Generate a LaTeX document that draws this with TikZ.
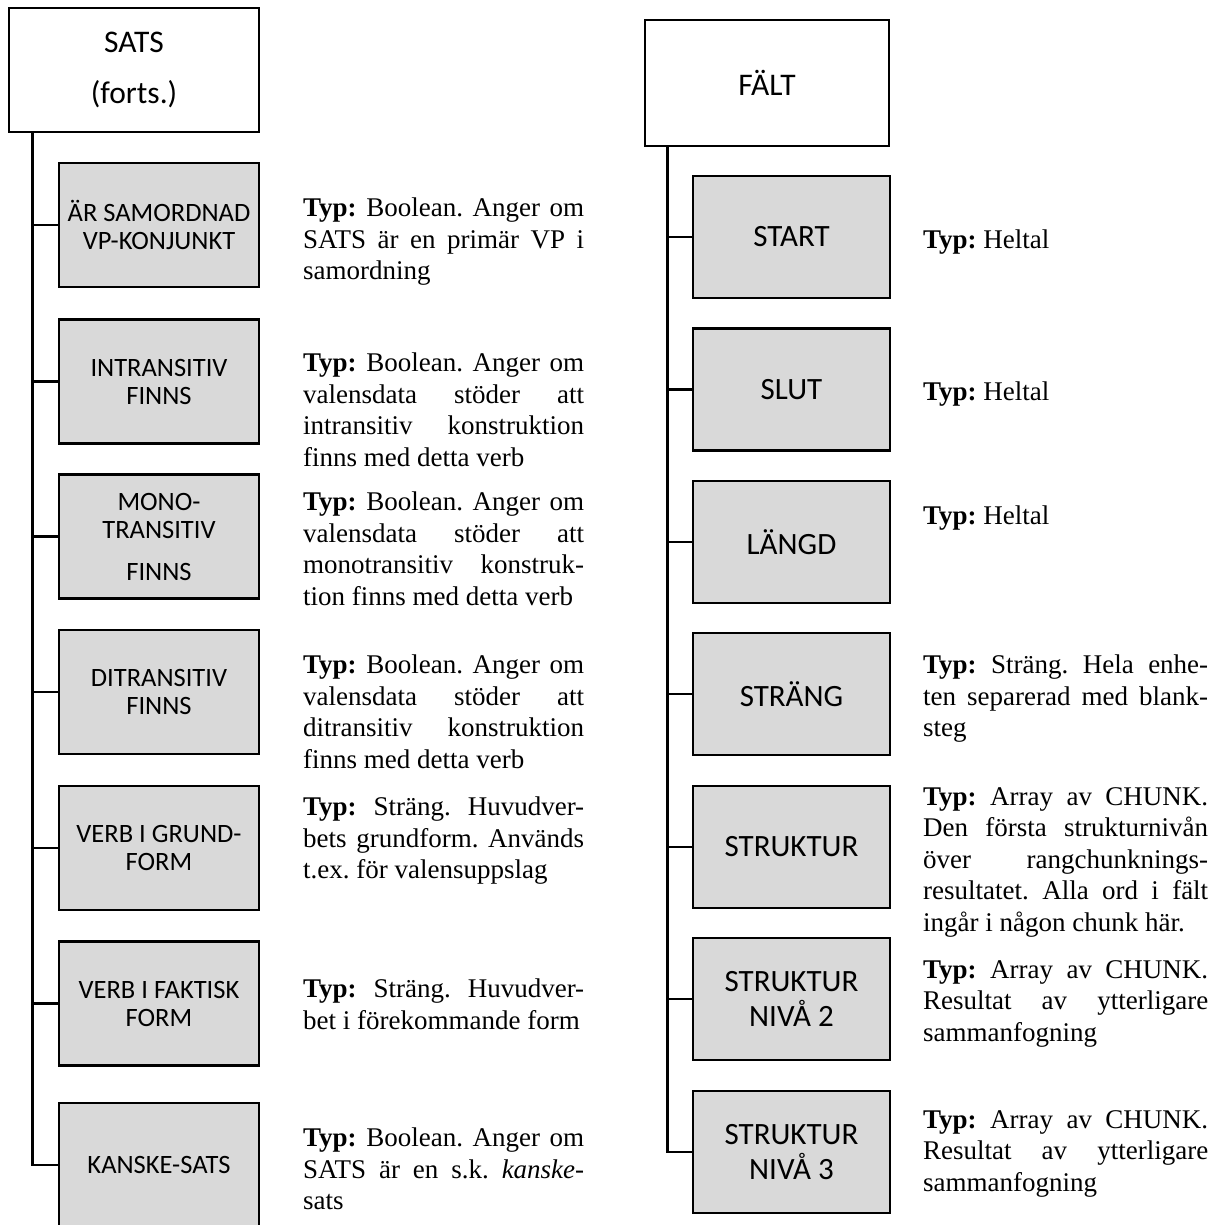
\documentclass[tikz,border=0pt]{standalone}
\usepackage{fontspec}
\setmainfont{Liberation Serif}
\newfontfamily\boxfont{Carlito}
\tolerance=10000
\hbadness=10000
\hyphenpenalty=10000
\frenchspacing
\definecolor{boxgray}{HTML}{D9D9D9}
\tikzset{
  hdrbox/.style={draw, line width=2.6pt, fill=white, rectangle, inner sep=0pt, align=center,
    font=\boxfont\fontsize{31.5}{51}\selectfont},
  leftbox/.style={draw, line width=2.6pt, fill=boxgray, rectangle, inner sep=0pt, align=center,
    minimum width=200pt, minimum height=124pt, font=\boxfont\fontsize{26.5}{28}\selectfont},
  rightbox/.style={draw, line width=2.6pt, fill=boxgray, rectangle, inner sep=0pt, align=center,
    minimum width=197pt, minimum height=122pt, font=\boxfont\fontsize{31}{35}\selectfont},
  conn/.style={line width=2.6pt},
  ldesc/.style={anchor=north west, inner sep=0pt, text width=281pt, align=justify,
    font=\fontsize{27}{31.5}\selectfont},
  rdesc/.style={ldesc, text width=285pt},
}
\newcommand{\typ}{\textbf{Typ:}}
\begin{document}
\begin{tikzpicture}[x=1pt, y=-1pt]
\useasboundingbox (0,0) rectangle (1214,1225);

% ---- SATS (forts.) ----
\node[hdrbox, minimum width=250pt, minimum height=124pt] (sats) at (134,70) {SATS\\(forts.)};
\node[leftbox] (c1) at (159,225)    {ÄR SAMORDNAD\\VP-KONJUNKT};
\node[leftbox] (c2) at (159,381.5)  {INTRANSITIV\\FINNS};
\node[leftbox] (c3) at (159,536.5)  {MONO-\\TRANSITIV\\[14pt]FINNS};
\node[leftbox] (c4) at (159,692)    {DITRANSITIV\\FINNS};
\node[leftbox] (c5) at (159,848)    {VERB I GRUND-\\FORM};
\node[leftbox] (c6) at (159,1003.5) {VERB I FAKTISK\\FORM};
\node[leftbox] (c7) at (159,1165)   {KANSKE-SATS};

\coordinate (lt) at ([xshift=25pt]sats.south west);
\draw[conn] (lt) |- (c7.west);
\foreach \n in {c1,c2,c3,c4,c5,c6}
  \draw[conn] (\n.west) -- (\n.west -| lt);

\node[ldesc] (d1) at (303,198) {\typ{} Boolean. Anger om\linebreak SATS är en primär VP i\linebreak samordning};
\node[ldesc] (d2) at (303,353) {\typ{} Boolean. Anger om\linebreak valensdata stöder att\linebreak intransitiv konstruktion\linebreak finns med detta verb};
\node[ldesc] (d3) at (303,492) {\typ{} Boolean. Anger om\linebreak valensdata stöder att\linebreak monotransitiv konstruk-\linebreak tion finns med detta verb};
\node[ldesc] (d4) at (303,655) {\typ{} Boolean. Anger om\linebreak valensdata stöder att\linebreak ditransitiv konstruktion\linebreak finns med detta verb};
\node[ldesc] (d5) at (303,797) {\typ{} Sträng. Huvudver-\linebreak bets grundform. Används\linebreak t.ex. för valensuppslag};
\node[ldesc] (d6) at (303,979) {\typ{} Sträng. Huvudver-\linebreak bet i förekommande form};
\node[ldesc] (d7) at (303,1128) {\typ{} Boolean. Anger om\linebreak SATS är en s.k. \textit{kanske}-\linebreak sats};

% ---- FÄLT ----
\node[hdrbox, minimum width=244pt, minimum height=126pt] (falt) at (767,83) {FÄLT};
\node[rightbox] (f1) at (791.5,237)   {START};
\node[rightbox] (f2) at (791.5,389.5) {SLUT};
\node[rightbox] (f3) at (791.5,542)   {LÄNGD};
\node[rightbox] (f4) at (791.5,694)   {STRÄNG};
\node[rightbox] (f5) at (791.5,847)   {STRUKTUR};
\node[rightbox] (f6) at (791.5,999)   {STRUKTUR\\NIVÅ 2};
\node[rightbox] (f7) at (791.5,1152)  {STRUKTUR\\NIVÅ 3};

\coordinate (rt) at ([xshift=24pt]falt.south west);
\draw[conn] (rt) |- (f7.west);
\foreach \n in {f1,f2,f3,f4,f5,f6}
  \draw[conn] (\n.west) -- (\n.west -| rt);

\node[rdesc] (e1) at (923,230) {\typ{} Heltal};
\node[rdesc] (e2) at (923,382) {\typ{} Heltal};
\node[rdesc] (e3) at (923,506) {\typ{} Heltal};
\node[rdesc] (e4) at (923,655) {\typ{} Sträng. Hela enhe-\linebreak ten separerad med blank-\linebreak steg};
\node[rdesc] (e5) at (923,787) {\typ{} Array av CHUNK.\linebreak Den första strukturnivån\linebreak över rangchunknings-\linebreak resultatet. Alla ord i fält\linebreak ingår i någon chunk här.};
\node[rdesc] (e6) at (923,960) {\typ{} Array av CHUNK.\linebreak Resultat av ytterligare\linebreak sammanfogning};
\node[rdesc] (e7) at (923,1110) {\typ{} Array av CHUNK.\linebreak Resultat av ytterligare\linebreak sammanfogning};
\end{tikzpicture}
\end{document}
